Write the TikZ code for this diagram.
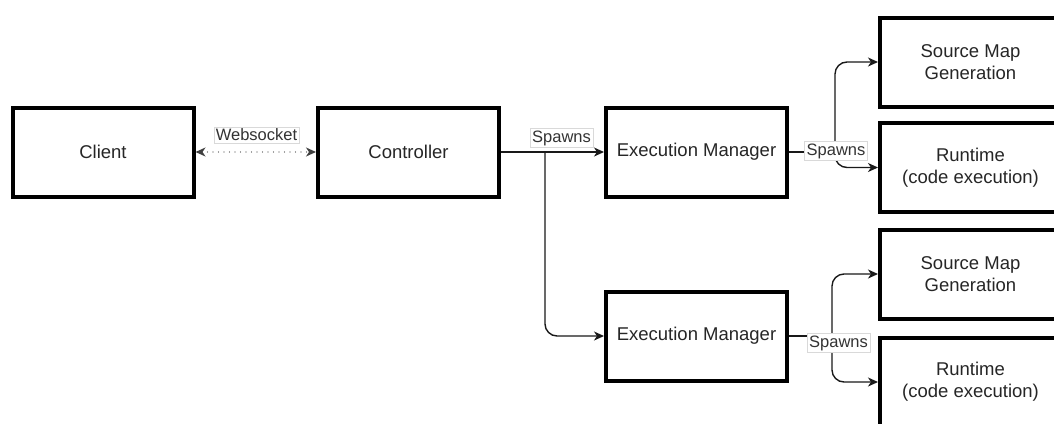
\documentclass[tikz,border=0pt]{standalone}
\usepackage{fontspec}
\setmainfont{Liberation Sans}
\usetikzlibrary{arrows.meta}
\begin{document}
\begin{tikzpicture}[x=1pt,y=-1pt,
  box/.style={draw=black, line width=4pt, fill=white, minimum width=181pt, minimum height=89pt,
    align=center, text=black!85, font=\fontsize{18.5}{22}\selectfont, inner sep=0pt},
  lbl/.style={draw=black!15, line width=0.6pt, fill=white, text=black!80,
    font=\fontsize{16.5}{18}\selectfont, inner sep=2pt},
  tip/.style={Stealth[length=10pt,width=9pt,inset=3pt]},
  conn/.style={line width=1.4pt, draw=black!90, -{Stealth[length=10pt,width=9pt,inset=3pt]}},
  plainconn/.style={line width=1.4pt, draw=black!90}
]
\useasboundingbox (0,0) rectangle (1054,423);
\clip (0,0) rectangle (1054,423);

\node[box] (client) at (103,152) {Client};
\node[box] (ctrl) at (408.5,152) {Controller};
\node[box] (em1) at (696.5,152) {Execution Manager};
\node[box] (em2) at (696.5,336) {Execution Manager};
\node[box] (sm1) at (970.5,62) {Source Map\\Generation};
\node[box] (rt1) at (970.5,167.5) {Runtime\\(code execution)};
\node[box] (sm2) at (970.5,274) {Source Map\\Generation};
\node[box] (rt2) at (970.5,382) {Runtime\\(code execution)};

\coordinate (s1) at (545,152);
\coordinate (s2) at (835,152);
\coordinate (s3) at (832,336);

% websocket
\draw[line width=1.4pt, draw=black!75, line cap=round, dash pattern=on 0pt off 5.5pt,
  {Stealth[length=10pt,width=9pt,inset=3pt]}-{Stealth[length=10pt,width=9pt,inset=3pt]}]
  (client.east) -- (ctrl.west);
\node[lbl] (ws) at (256.5,135) {Websocket};

% controller spawns
\draw[conn] (ctrl.east) -- (em1.west);
\draw[conn, rounded corners=12pt] (s1) |- (em2.west);
\node[lbl] (sp1) at (561.5,138) {Spawns};

% em1 spawns
\draw[plainconn] (em1.east) -- (s2);
\draw[conn, rounded corners=12pt] (s2) |- (sm1.west);
\draw[conn, rounded corners=12pt] (s2) |- (rt1.west);
\node[lbl] (sp2) at (836,151) {Spawns};

% em2 spawns
\draw[plainconn] (em2.east) -- (s3);
\draw[conn, rounded corners=12pt] (s3) |- (sm2.west);
\draw[conn, rounded corners=12pt] (s3) |- (rt2.west);
\node[lbl] (sp3) at (838.5,343) {Spawns};
\end{tikzpicture}
\end{document}
